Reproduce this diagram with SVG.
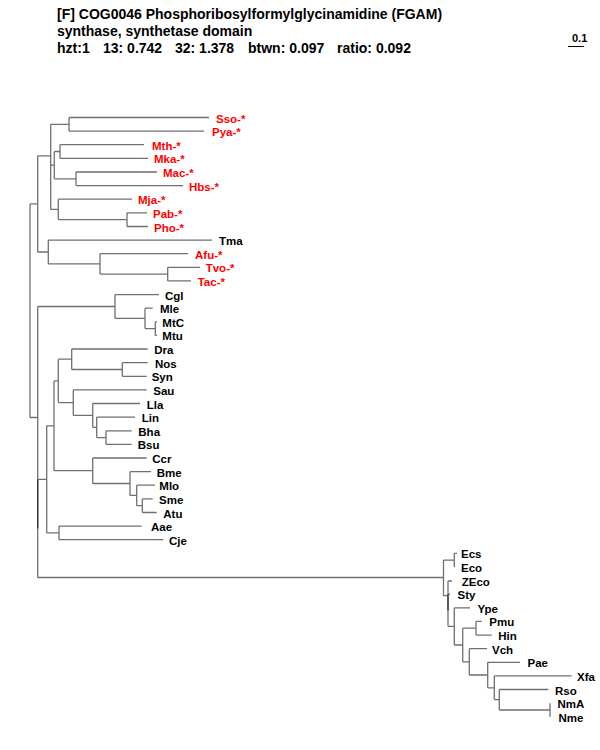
<svg xmlns="http://www.w3.org/2000/svg" width="600" height="750" viewBox="0 0 600 750">
<style>
.t{font-family:"Liberation Sans",Arial,sans-serif;font-weight:bold;font-size:14px;fill:#000}
.l{font-family:"Liberation Sans",Arial,sans-serif;font-weight:bold;font-size:11.5px;fill:#000}
.r{fill:#ff0000}
.c path{fill:none;stroke:#707070;stroke-width:1.3}
.c path.d{stroke:#333}
</style>
<rect width="600" height="750" fill="#fff"/>
<g id="title">
<text class="t" x="57" y="19">[F] COG0046 Phosphoribosylformylglycinamidine (FGAM)</text>
<text class="t" x="57" y="36">synthase, synthetase domain</text>
<text class="t" y="53"><tspan x="57">hzt:1</tspan><tspan x="103">13: 0.742</tspan><tspan x="175">32: 1.378</tspan><tspan x="248">btwn: 0.097</tspan><tspan x="337">ratio: 0.092</tspan></text>
</g>
<g id="scale">
<text class="l" x="572" y="42" style="font-size:11px">0.1</text>
<path d="M568 46.5H584" stroke="#000" stroke-width="1"/>
</g>
<g class="c" id="connectors">
<path d="M30 203.9V417.5"/>
<path d="M30 203.9H37.7M37.7 155.8V252"/>
<path d="M37.7 155.8H50.7M50.7 124.3V187.3M50.7 165.2V209.4"/>
<path d="M50.7 124.3H69M69 117.5V131.1M69 117.5H209M69 131.1H204"/>
<path d="M50.7 165.2H54.3M54.3 151.5V178.8"/>
<path d="M54.3 151.5H60M60 144.7V158.4M60 144.7H144M60 158.4H148"/>
<path d="M54.3 178.8H76M76 172V185.6M76 172H157M76 185.6H183"/>
<path d="M50.7 209.4H58.3M58.3 199.2V219.6M58.3 199.2H132"/>
<path d="M58.3 219.6H127M127 212.8V226.5M127 212.8H147M127 226.5H148"/>
<path d="M37.7 252H48.3M48.3 240.1V263.9M48.3 240.1H212"/>
<path d="M48.3 263.9H100M100 253.7V274.1M100 253.7H188"/>
<path d="M100 274.1H167.7M167.7 267.3V280.9M167.7 267.3H200M167.7 280.9H191"/>
<path d="M30 417.5H37.7M37.7 306.5V528.4M37.7 479.3V577.5"/>
<path class="d" d="M37.7 479.3V528.4"/>
<path d="M37.7 306.5H115M115 294.6V318.4M115 294.6H159"/>
<path d="M115 318.4H145M145 308.2V328.6M145 308.2H152.7"/>
<path d="M145 328.6H155.3M155.3 321.8V335.4M155.3 321.8H157M155.3 335.4H157"/>
<path d="M37.7 479.3H46.7M46.7 425.8V532.9"/>
<path d="M46.7 425.8H54M54 380.9V470.7"/>
<path d="M54 380.9H58.3M58.3 359.2V402.6"/>
<path d="M58.3 359.2H71.7M71.7 349V369.5M71.7 349H147.7"/>
<path d="M71.7 369.5H122.3M122.3 362.7V376.3M122.3 362.7H147.7M122.3 376.3H146.7"/>
<path d="M58.3 402.6H73.3M73.3 389.9V415.4M73.3 389.9H146.7"/>
<path d="M73.3 415.4H92.7M92.7 403.5V427.3M92.7 403.5H140"/>
<path d="M92.7 427.3H96.7M96.7 417.1V437.6M96.7 417.1H135"/>
<path d="M96.7 437.6H106M106 430.8V444.4M106 430.8H131.7M106 444.4H131.7"/>
<path d="M54 470.7H92.7M92.7 458V483.5M92.7 458H146.7"/>
<path d="M92.7 483.5H130M130 471.6V495.4M130 471.6H151"/>
<path d="M130 495.4H136.7M136.7 485.2V505.7M136.7 485.2H155"/>
<path d="M136.7 505.7H142.3M142.3 498.9V512.5M142.3 498.9H152.7M142.3 512.5H156.7"/>
<path d="M46.7 532.9H59M59 526.1V539.7M59 526.1H141.7M59 539.7H163.3"/>
<path d="M37.7 577.5H443.5M443.5 560.1V595.7"/>
<path d="M443.5 560.1H454.3M454.3 553.3V566.9M454.3 553.3H457"/>
<path d="M443.5 595.7H448M448 581V626.4M448 581H452M448 594.2H450"/>
<path class="d" d="M448 594.2V610.3"/>
<path d="M448 626.4H454.3M454.3 607.8V645M454.3 607.8H470"/>
<path d="M454.3 645H462.7M462.7 628.2V661.9"/>
<path d="M462.7 628.2H476M476 621.4V635.1M476 621.4H481.7M476 635.1H491.7"/>
<path d="M462.7 661.9H469.3M469.3 648.7V675M469.3 648.7H487"/>
<path d="M469.3 675H487.7M487.7 662.3V687.8M487.7 662.3H520"/>
<path d="M487.7 687.8H494.3M494.3 675.9V699.7M494.3 675.9H571.7"/>
<path d="M494.3 699.7H499.3M499.3 689.5V710M499.3 689.5H548.3"/>
<path d="M499.3 710H550M550 703.2V716.8"/>
</g>
<g id="Sso"><text class="l r" x="216" y="122.5">Sso-*</text></g>
<g id="Pya"><text class="l r" x="212" y="136.1">Pya-*</text></g>
<g id="Mth"><text class="l r" x="152" y="149.7">Mth-*</text></g>
<g id="Mka"><text class="l r" x="154" y="163.4">Mka-*</text></g>
<g id="Mac"><text class="l r" x="163" y="177">Mac-*</text></g>
<g id="Hbs"><text class="l r" x="189" y="190.6">Hbs-*</text></g>
<g id="Mja"><text class="l r" x="138" y="204.2">Mja-*</text></g>
<g id="Pab"><text class="l r" x="153" y="217.8">Pab-*</text></g>
<g id="Pho"><text class="l r" x="154" y="231.5">Pho-*</text></g>
<g id="Tma"><text class="l" x="219" y="245.1">Tma</text></g>
<g id="Afu"><text class="l r" x="195" y="258.7">Afu-*</text></g>
<g id="Tvo"><text class="l r" x="205.7" y="272.3">Tvo-*</text></g>
<g id="Tac"><text class="l r" x="197.7" y="285.9">Tac-*</text></g>
<g id="Cgl"><text class="l" x="165" y="299.6">Cgl</text></g>
<g id="Mle"><text class="l" x="160" y="313.2">Mle</text></g>
<g id="MtC"><text class="l" x="162.3" y="326.8">MtC</text></g>
<g id="Mtu"><text class="l" x="162.3" y="340.4">Mtu</text></g>
<g id="Dra"><text class="l" x="154.3" y="354">Dra</text></g>
<g id="Nos"><text class="l" x="155" y="367.7">Nos</text></g>
<g id="Syn"><text class="l" x="151.7" y="381.3">Syn</text></g>
<g id="Sau"><text class="l" x="153.3" y="394.9">Sau</text></g>
<g id="Lla"><text class="l" x="146.7" y="408.5">Lla</text></g>
<g id="Lin"><text class="l" x="141.7" y="422.1">Lin</text></g>
<g id="Bha"><text class="l" x="138.3" y="435.8">Bha</text></g>
<g id="Bsu"><text class="l" x="137.7" y="449.4">Bsu</text></g>
<g id="Ccr"><text class="l" x="152.3" y="463">Ccr</text></g>
<g id="Bme"><text class="l" x="156.7" y="476.6">Bme</text></g>
<g id="Mlo"><text class="l" x="159.3" y="490.2">Mlo</text></g>
<g id="Sme"><text class="l" x="159" y="503.9">Sme</text></g>
<g id="Atu"><text class="l" x="163.3" y="517.5">Atu</text></g>
<g id="Aae"><text class="l" x="151" y="531.1">Aae</text></g>
<g id="Cje"><text class="l" x="169" y="544.7">Cje</text></g>
<g id="Ecs"><text class="l" x="461" y="558.3">Ecs</text></g>
<g id="Eco"><text class="l" x="461" y="571.9">Eco</text></g>
<g id="ZEco"><text class="l" x="461.7" y="586">ZEco</text></g>
<g id="Sty"><text class="l" x="457.5" y="599.2">Sty</text></g>
<g id="Ype"><text class="l" x="477.5" y="612.8">Ype</text></g>
<g id="Pmu"><text class="l" x="489.3" y="626.4">Pmu</text></g>
<g id="Hin"><text class="l" x="498.3" y="640.1">Hin</text></g>
<g id="Vch"><text class="l" x="492" y="653.7">Vch</text></g>
<g id="Pae"><text class="l" x="527.5" y="667.3">Pae</text></g>
<g id="Xfa"><text class="l" x="577" y="680.9">Xfa</text></g>
<g id="Rso"><text class="l" x="555" y="694.5">Rso</text></g>
<g id="NmA"><text class="l" x="557.5" y="708.2">NmA</text></g>
<g id="Nme"><text class="l" x="558.5" y="721.8">Nme</text></g>
</svg>
